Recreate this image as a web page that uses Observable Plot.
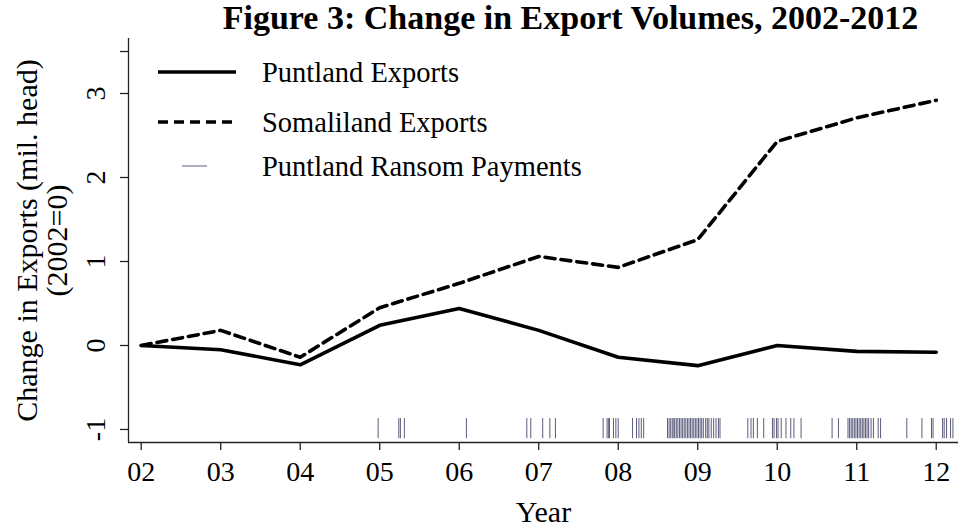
<!DOCTYPE html>
<html><head><meta charset="utf-8">
<script src="https://cdn.jsdelivr.net/npm/d3@7"></script>
<script src="https://cdn.jsdelivr.net/npm/@observablehq/plot@0.6"></script>
<style>
body{margin:0;background:#fff;font-family:"Liberation Serif","Times New Roman",serif;}
#title{height:36px;line-height:36px;font-size:34px;font-weight:bold;text-align:center;padding-left:178px;color:#000;white-space:nowrap;}
</style></head>
<body>
<div id="title">Figure 3: Change in Export Volumes, 2002-2012</div>
<div id="chart"></div>
<script>
const years = [2002,2003,2004,2005,2006,2007,2008,2009,2010,2011,2012];
const puntland = [0,-0.05,-0.23,0.24,0.44,0.18,-0.14,-0.24,0.0,-0.07,-0.08];
const somaliland = [0,0.18,-0.14,0.45,0.74,1.06,0.93,1.26,2.43,2.71,2.92];
const ransomDates = [2004.98,2005.24,2005.26,2005.31,2006.09,2006.85,2006.90,2007.05,2007.14,2007.21,
 2007.81,2007.86,2007.88,2007.89,2007.94,2007.97,2008.00,2008.18,2008.23,2008.26,2008.29,2008.32,
 2008.62,2008.64,2008.66,2008.68,2008.70,2008.71,2008.73,2008.75,2008.77,2008.79,2008.81,2008.83,2008.85,2008.87,2008.89,2008.91,2008.93,2008.95,2008.97,2008.99,2009.01,2009.03,2009.05,2009.07,2009.10,2009.12,2009.14,2009.17,2009.20,2009.23,2009.26,2009.28,
 2009.63,2009.67,2009.70,2009.75,2009.83,2009.94,2009.96,2009.99,2010.01,2010.05,2010.11,2010.17,2010.21,2010.30,
 2010.69,2010.77,2010.89,2010.91,2010.93,2010.95,2010.97,2010.99,2011.01,2011.03,2011.05,2011.07,2011.09,2011.11,2011.13,2011.15,2011.18,2011.21,2011.27,2011.30,
 2011.63,2011.82,2011.94,2011.96,2012.08,2012.10,2012.13,2012.18,2012.21];
const xTicks = years;
const yTicks = [-1,0,1,2,3,3.5];
const yTickLabels = ["-1","0","1","2","3",""];
const xDomain = [2001.84, 2012.28];
const yDomain = [-1.155, 3.655];
const rugRange = [-1.11, -0.87];
const seriesNames = ["Puntland Exports","Somaliland Exports","Puntland Ransom Payments"];
const yTitle = "Change in Exports (mil. head)\n(2002=0)";
const xTitle = "Year";

const lineData = years.flatMap((yr,i)=>[
  {year:yr, value:puntland[i], series:seriesNames[0]},
  {year:yr, value:somaliland[i], series:seriesNames[1]}
]);
const yLabelRows = yTicks.map((t,i)=>({t, label:yTickLabels[i]})).filter(d=>d.label!=="");

const font = '"Liberation Serif","Times New Roman",serif';
const axisColor = "#222";

const plot = Plot.plot({
  width: 963, height: 493,
  marginLeft: 128, marginRight: 5, marginTop: 2, marginBottom: 87,
  style: {fontFamily: font, fontSize: "27px", color: "#000", background: "#fff"},
  x: {domain: xDomain},
  y: {domain: yDomain},
  marks: [
    Plot.ruleX(ransomDates, {x: d=>d, y1: rugRange[0], y2: rugRange[1], stroke: "#5c5c7c", strokeWidth: 1}),
    Plot.line(lineData.filter(d=>d.series===seriesNames[0]), {x:"year", y:"value", stroke:"#000", strokeWidth:3.6}),
    Plot.line(lineData.filter(d=>d.series===seriesNames[1]), {x:"year", y:"value", stroke:"#000", strokeWidth:3.6, strokeDasharray:"10,6"}),
    Plot.ruleX([xDomain[0]], {stroke: axisColor, strokeWidth: 1.3}),
    Plot.ruleY([yDomain[0]], {stroke: axisColor, strokeWidth: 1.3}),
    Plot.axisX({ticks: xTicks, tickFormat: d=>String(d%100).padStart(2,"0"), tickSize: 8, tickPadding: 11, stroke: axisColor, strokeWidth: 1.3, label: null, fontSize: 28}),
    Plot.axisY({ticks: yTicks, tickFormat: ()=>"", tickSize: 8, stroke: axisColor, strokeWidth: 1.3, label: null}),
    Plot.text(yLabelRows, {x: xDomain[0], y: "t", text: "label", rotate: -90, dx: -32, textAnchor: "middle", lineAnchor: "middle", fontSize: 28, fill: "#000"}),
    Plot.text([yTitle], {frameAnchor: "left", rotate: -90, dx: -86, textAnchor: "middle", lineAnchor: "middle", fontSize: 30, lineHeight: 1.0, fill: "#000"}),
    Plot.text([xTitle], {frameAnchor: "bottom", dy: 70, textAnchor: "middle", lineAnchor: "middle", fontSize: 30, fill: "#000"})
  ]
});
document.getElementById("chart").appendChild(plot);

// legend (inside plot area, top-left)
const svg = d3.select(plot);
const lg = svg.append("g").attr("font-family", font).attr("font-size", 28.5).attr("text-anchor", "start");
const legendItems = [
  {name: seriesNames[0], y: 36, x1: 158, x2: 236, w: 3.6, dash: null},
  {name: seriesNames[1], y: 86, x1: 158, x2: 236, w: 3.6, dash: "10,6"},
  {name: seriesNames[2], y: 130, x1: 182, x2: 207, w: 1, dash: null}
];
legendItems.forEach(it=>{
  lg.append("line").attr("x1",it.x1).attr("x2",it.x2).attr("y1",it.y).attr("y2",it.y)
    .attr("stroke", it.w===1 ? "#5c5c7c" : "#000").attr("stroke-width",it.w)
    .attr("stroke-dasharray", it.dash);
  lg.append("text").attr("x",262).attr("y",it.y).attr("dy","0.35em").attr("fill","#000").attr("text-anchor","start").text(it.name);
});
</script>
</body></html>
